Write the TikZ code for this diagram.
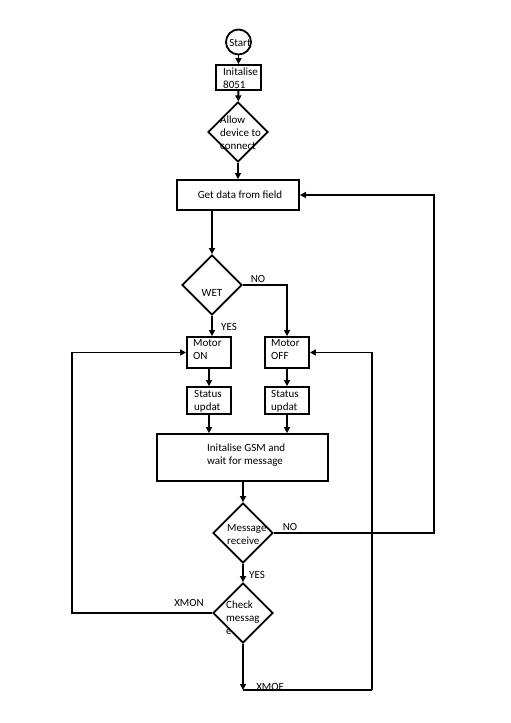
\documentclass[tikz,border=0pt]{standalone}
\usepackage{fontspec}
\setmainfont{Carlito}
\usetikzlibrary{arrows.meta,shapes.geometric}
\begin{document}
\begin{tikzpicture}[x=1pt,y=-1pt,
 box/.style={draw,line width=1.8pt,inner sep=0pt},
 dia/.style={draw,diamond,line width=1.8pt,inner sep=0pt,minimum width=60pt,minimum height=60pt},
 txt/.style={font=\fontsize{11}{13}\selectfont,inner sep=0pt,align=left},
 conn/.style={line width=1.8pt,-{Triangle[length=6pt,width=6pt]}},
 plain/.style={line width=1.8pt}]
\useasboundingbox[fill=white] (0,0) rectangle (511,723);
% shapes
\node[box,circle,minimum size=25pt] (start) at (238.5,42) {};
\node[box,minimum width=45pt,minimum height=25pt] (init) at (238.5,77.5) {};
\node[dia] (allow) at (238,132) {};
\node[box,minimum width=122pt,minimum height=30pt] (get) at (238,195) {};
\node[dia] (wet) at (212,285) {};
\node[box,minimum width=44pt,minimum height=31pt] (mon) at (209,352.5) {};
\node[box,minimum width=44pt,minimum height=31pt] (moff) at (287,352.5) {};
\node[box,minimum width=44pt,minimum height=27pt] (son) at (209,400.5) {};
\node[box,minimum width=44pt,minimum height=27pt] (soff) at (287,400.5) {};
\node[box,minimum width=171pt,minimum height=47pt] (gsm) at (242.5,457.5) {};
\node[dia] (msg) at (243,533) {};
\node[dia] (chk) at (243,613) {};
\coordinate (r1) at (434,533);
\coordinate (l1) at (72,613);
\coordinate (b1) at (243,690);
\coordinate (b2) at (372,690);
% texts
\node[txt] (tstart) at (240,43) {Start};
\node[txt,anchor=west] (tinit) at (223,78) {Initalise\\8051};
\node[txt,anchor=west] (tallow) at (220,133) {Allow\\device to\\connect};
\node[txt] (tget) at (240,195) {Get data from field};
\node[txt] (twet) at (212,293) {WET};
\node[txt] (tno1) at (258,279) {NO};
\node[txt] (tyes1) at (229,327) {YES};
\node[txt,anchor=west] (tmon) at (193,350) {Motor\\ON};
\node[txt,anchor=west] (tmoff) at (271,350) {Motor\\OFF};
\node[txt,anchor=west] (tson) at (194,401) {Status\\updat};
\node[txt,anchor=west] (tsoff) at (271,401) {Status\\updat};
\node[txt,anchor=west] (tgsm) at (207,455) {Initalise GSM and\\wait for message};
\node[txt,anchor=west] (tmsg) at (227,535) {Message\\receive};
\node[txt] (tno2) at (290,527) {NO};
\node[txt] (tyes2) at (257,575) {YES};
\node[txt,anchor=west] (tchk) at (226,618) {Check\\messag\\e};
\node[txt] (txmon) at (189,603) {XMON};
\node[txt] (txmof) at (270,687) {XMOF};
% connectors
\draw[conn] (start) -- (init);
\draw[conn] (init) -- (allow);
\draw[conn] (allow) -- (get);
\draw[conn] (get.south -| wet.north) -- (wet.north);
\draw[conn] (wet.east) -| (moff.north);
\draw[conn] (wet.south) -- (wet.south |- mon.north);
\draw[conn] (mon) -- (son);
\draw[conn] (moff) -- (soff);
\draw[conn] (son.south) -- (son.south |- gsm.north);
\draw[conn] (soff.south) -- (soff.south |- gsm.north);
\draw[conn] (gsm.south -| msg.north) -- (msg.north);
\draw[conn] (msg) -- (chk);
\draw[conn] (msg.east) -- (r1) |- (get.east);
\draw[conn] (chk.west) -- (l1) |- (mon.west);
\draw[conn] (chk.south) -- (b1);
\draw[plain] (b1) -- (b2);
\draw[conn] (b2) |- (moff.east);
\end{tikzpicture}
\end{document}
